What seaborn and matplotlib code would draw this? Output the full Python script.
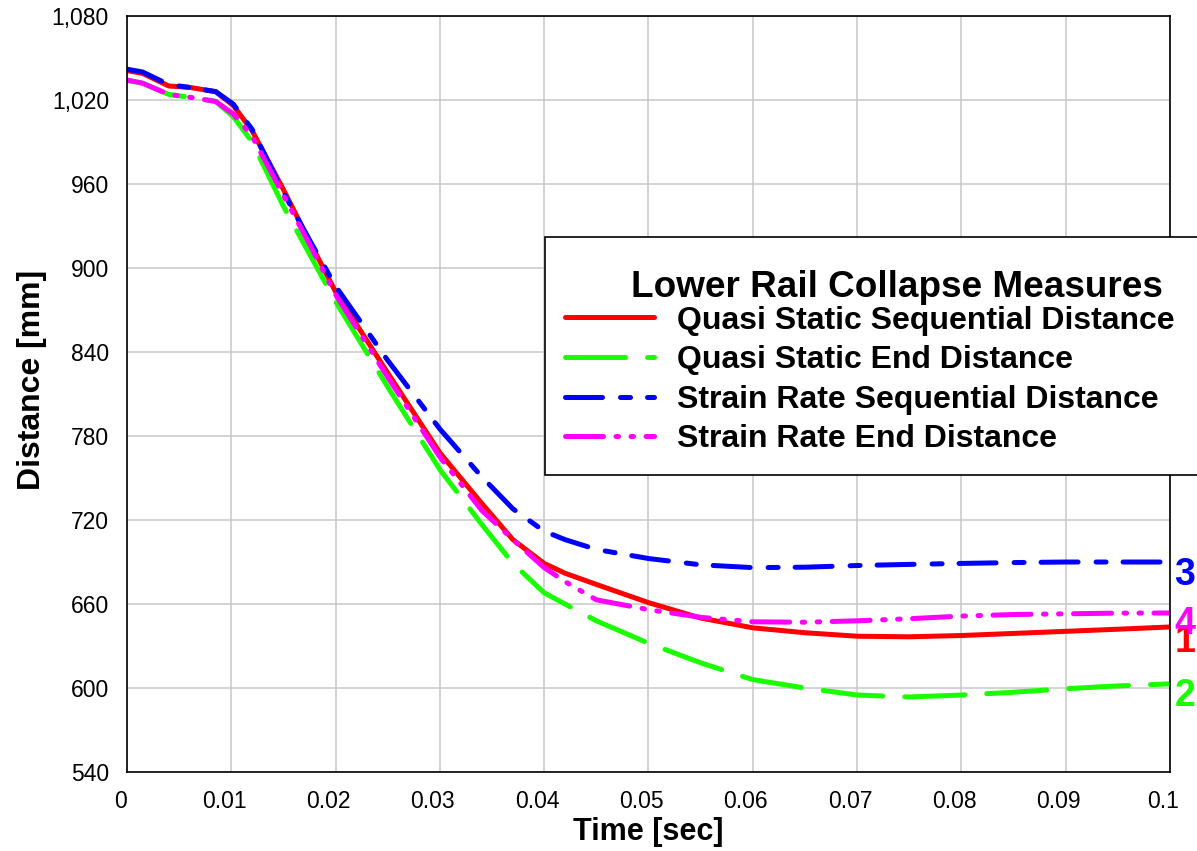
import matplotlib
matplotlib.use("Agg")
import matplotlib.pyplot as plt
import matplotlib.transforms as mtransforms
from matplotlib.patches import Rectangle
from matplotlib.ticker import FuncFormatter
import seaborn as sns

# Données
time_s = [0.0, 0.0015, 0.004, 0.006, 0.0085, 0.0102, 0.012, 0.015, 0.0175, 0.02,
          0.025, 0.03, 0.034, 0.037, 0.04, 0.042, 0.045, 0.05, 0.055, 0.06,
          0.065, 0.07, 0.075, 0.08, 0.085, 0.09, 0.095, 0.1]

qs_sequential = [1041, 1039, 1030, 1029, 1026, 1016, 998, 956, 919, 883,
                 825, 768, 732, 706, 689, 682, 674, 661, 650, 643,
                 639.5, 637, 636.6, 637.5, 639, 640.5, 642, 643.6]
qs_end = [1034, 1032, 1024, 1022, 1019, 1008, 990, 944, 910, 876,
          815, 756, 717, 689, 668, 660, 648, 632, 618, 606,
          600, 595, 593.6, 595, 597, 599.5, 601.5, 603]
sr_sequential = [1042, 1040, 1031, 1029, 1026, 1017, 999, 954, 920, 887,
                 834, 785, 751, 728, 712, 706, 699, 692.5, 688, 686,
                 686.3, 687.5, 688.3, 689, 689.6, 690, 690, 690]
sr_end = [1034.3, 1032, 1024, 1022, 1019, 1010, 994, 952, 917, 881,
          822, 765, 727, 706, 686, 676, 663, 656, 650.5, 647.3,
          647, 648, 649.5, 651.4, 652.5, 653, 653.5, 653.6]

series_names = ["Quasi Static Sequential Distance", "Quasi Static End Distance",
                "Strain Rate Sequential Distance", "Strain Rate End Distance"]
series_values = [qs_sequential, qs_end, sr_sequential, sr_end]
series_colors = ["#ff0000", "#19ff00", "#0000ff", "#ff00ff"]
series_dashes = [None, (12, 4.4), (7.4, 3.6, 2, 3.4), (7.6, 2.5, 0.5, 2.5, 0.5, 2.5)]
end_tags = ["1", "2", "3", "4"]
end_offsets = [-11, -9, -9, -8]

x_ticks = [0, 0.01, 0.02, 0.03, 0.04, 0.05, 0.06, 0.07, 0.08, 0.09, 0.1]
y_ticks = [540, 600, 660, 720, 780, 840, 900, 960, 1020, 1080]

sns.set_style("whitegrid")
plt.rcParams["font.family"] = ["Liberation Sans", "DejaVu Sans"]
plt.rcParams["text.color"] = "black"
plt.rcParams["axes.labelcolor"] = "black"

fig = plt.figure(figsize=(11.97, 8.51), dpi=100)
ax = fig.add_axes([0.1061, 0.0928, 0.8713, 0.8884])

for name, vals, col, dash in zip(series_names, series_values, series_colors, series_dashes):
    sns.lineplot(x=time_s, y=vals, ax=ax, color=col, linewidth=3.6, label=name, sort=False)
    line = ax.lines[-1]
    line.set_solid_capstyle("round")
    line.set_dash_capstyle("round")
    if dash is not None:
        line.set_dashes(dash)

# axes
ax.set_xlim(0, 0.1)
ax.set_ylim(540, 1080)
ax.set_xticks(x_ticks)
ax.set_yticks(y_ticks)
ax.xaxis.set_major_formatter(FuncFormatter(lambda v, p: f"{v:g}"))
ax.yaxis.set_major_formatter(FuncFormatter(lambda v, p: f"{v:,.0f}"))
ax.tick_params(axis="both", length=0, labelsize=16.5, colors="black")
ax.tick_params(axis="y", pad=13)
ax.tick_params(axis="x", pad=13)
ax.grid(True, color="#c8c8c8", linewidth=1.1)
for sp in ax.spines.values():
    sp.set_color("black")
    sp.set_linewidth(1.2)
    sp.set_visible(True)

shift = mtransforms.ScaledTranslation(-7 / 100, 0, fig.dpi_scale_trans)
for lab in ax.get_xticklabels():
    lab.set_transform(lab.get_transform() + shift)

ax.set_xlabel("Time [sec]", fontsize=22, fontweight="bold")
ax.set_ylabel("Distance [mm]", fontsize=23, fontweight="bold")
ax.xaxis.label.set_va("center")
ax.yaxis.label.set_va("center")
ax.xaxis.set_label_coords(0.5, -0.0794)
ax.yaxis.set_label_coords(-0.0911, 0.5185)

# légende
box = Rectangle((0.4008, 0.3929), 0.63, 0.3148, transform=ax.transAxes,
                facecolor="white", edgecolor="black", linewidth=1.2,
                clip_on=False, zorder=4)
ax.add_patch(box)
ax.text(0.4832, 0.6283, "Lower Rail Collapse Measures", transform=ax.transAxes,
        fontsize=26.6, fontweight="bold", ha="left", va="baseline", zorder=6)
handles, labels = ax.get_legend_handles_labels()
leg = ax.legend(handles, labels, loc="center left", bbox_to_anchor=(0.4199, 0.5185),
                borderaxespad=0, borderpad=0, frameon=False,
                prop={"weight": "bold", "size": 23}, handlelength=2.8,
                handletextpad=0.72, labelspacing=0.3)
leg.set_zorder(6)

# étiquettes en bout de courbe
for k in [0, 1, 2, 3]:
    vals = series_values[k]
    ax.text(0.10144, vals[-1] + end_offsets[k], end_tags[k], color=series_colors[k],
            fontsize=27, fontweight="bold", ha="center", va="center",
            clip_on=False, zorder=7)

fig.savefig("out.png", dpi=100)
plt.close()
